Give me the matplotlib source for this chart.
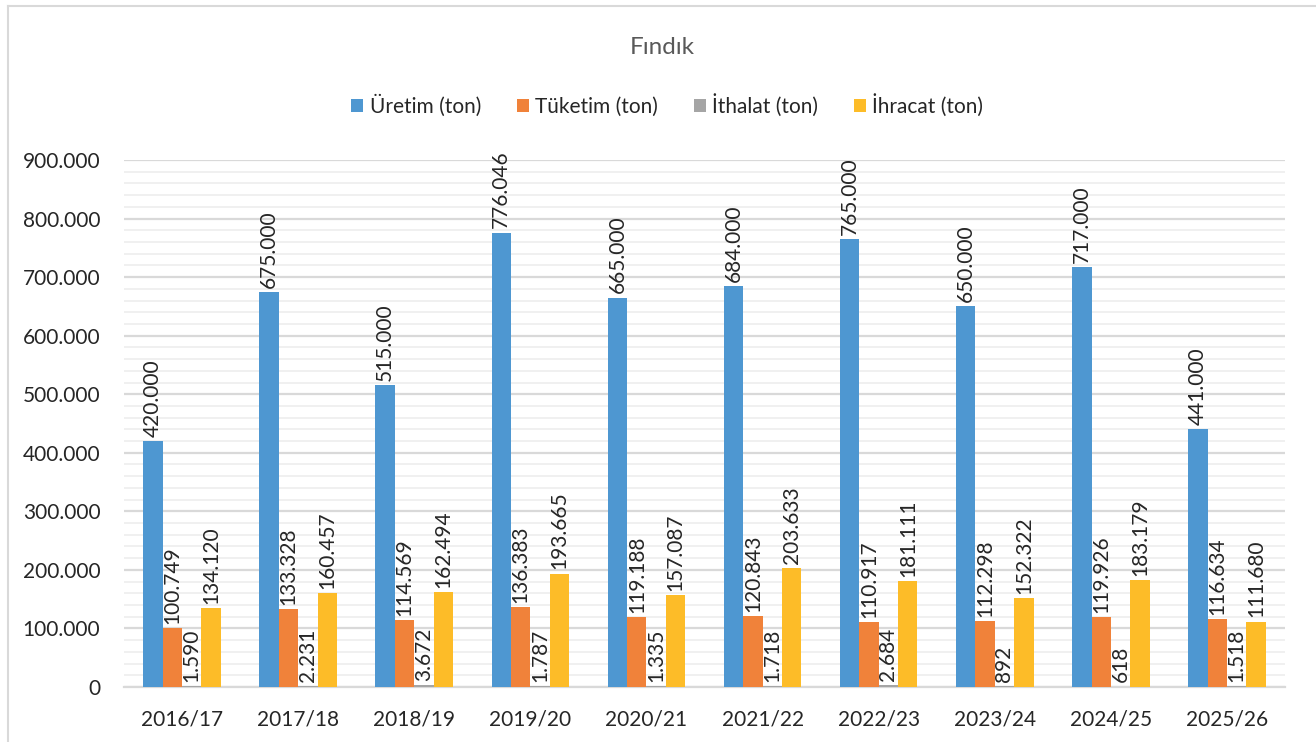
import matplotlib
matplotlib.use("Agg")
import matplotlib.pyplot as plt
import numpy as np
from matplotlib.lines import Line2D
from matplotlib.ticker import MultipleLocator, FuncFormatter

plt.rcParams['font.family'] = ['Lato', 'DejaVu Sans']

categories = ["2016/17", "2017/18", "2018/19", "2019/20", "2020/21",
              "2021/22", "2022/23", "2023/24", "2024/25", "2025/26"]
uretim = [420000, 675000, 515000, 776046, 665000, 684000, 765000, 650000, 717000, 441000]
tuketim = [100749, 133328, 114569, 136383, 119188, 120843, 110917, 112298, 119926, 116634]
ithalat = [1590, 2231, 3672, 1787, 1335, 1718, 2684, 892, 618, 1518]
ihracat = [134120, 160457, 162494, 193665, 157087, 203633, 181111, 152322, 183179, 111680]
series_names = ["Üretim (ton)", "Tüketim (ton)", "İthalat (ton)", "İhracat (ton)"]
colors = ["#4e97d1", "#f0823a", "#a5a5a5", "#fdbc28"]

def fmt(v):
    return f"{v:,.0f}".replace(",", ".")

fig = plt.figure(figsize=(13.16, 7.42), dpi=100)
ax = fig.add_axes([0.0942, 0.0741, 0.8823, 0.7103])

x = np.arange(len(categories))
w = 0.167
series = [uretim, tuketim, ithalat, ihracat]
for i, (vals, c, name) in enumerate(zip(series, colors, series_names)):
    pos = x + (i - 1.5) * w
    ax.bar(pos, vals, width=w, color=c, label=name, zorder=3)
    for p, v in zip(pos, vals):
        ax.annotate(fmt(v), (p, v), xytext=(0, 3), textcoords="offset points",
                    rotation=90, ha="center", va="bottom", fontsize=15,
                    color="#262626", zorder=4)

ax.set_xlim(-0.5, len(categories) - 0.5)
ax.set_ylim(0, 900000)
ax.yaxis.set_major_locator(MultipleLocator(100000))
ax.yaxis.set_minor_locator(MultipleLocator(20000))
ax.yaxis.set_major_formatter(FuncFormatter(lambda v, p: fmt(v)))
ax.grid(which="major", axis="y", color="#d9d9d9", linewidth=1.6, zorder=0)
ax.grid(which="minor", axis="y", color="#efefef", linewidth=1.3, zorder=0)
for s in ["top", "right", "left"]:
    ax.spines[s].set_visible(False)
ax.spines["bottom"].set_color("#d9d9d9")
ax.spines["bottom"].set_linewidth(1.6)
ax.set_xticks(x)
ax.set_xticklabels(categories)
ax.tick_params(axis="both", which="both", length=0, labelsize=15, colors="#262626")
ax.tick_params(axis="x", pad=16)
ax.tick_params(axis="y", pad=17)

fig.text(0.503, 0.936, "Fındık", ha="center", va="center", fontsize=17.5,
         color="#595959")
fig.legend(loc="center", bbox_to_anchor=(0.507, 0.858), ncol=4, frameon=False,
           fontsize=15, handlelength=0.6, handleheight=0.6, handletextpad=0.3,
           columnspacing=1.7, labelcolor="#262626")

# chart border
fig.add_artist(Line2D([8/1316, 8/1316], [0, 1 - 6/742], color="#d9d9d9", lw=1.5,
                      transform=fig.transFigure))
fig.add_artist(Line2D([8/1316, 1], [1 - 6/742, 1 - 6/742], color="#d9d9d9", lw=1.5,
                      transform=fig.transFigure))

fig.savefig("out.png", dpi=100, facecolor="white")
